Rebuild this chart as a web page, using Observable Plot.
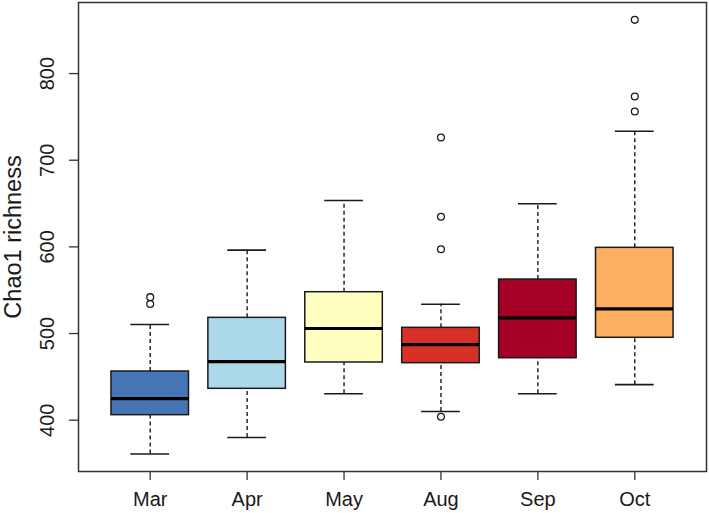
<!DOCTYPE html>
<html>
<head>
<meta charset="utf-8">
<script src="https://cdn.jsdelivr.net/npm/d3@7"></script>
<script src="https://cdn.jsdelivr.net/npm/@observablehq/plot@0.6"></script>
<style>
  html, body { margin: 0; padding: 0; background: #fff; }
  #chart svg { display: block; }
</style>
</head>
<body>
<div id="chart"></div>
<script>
const months = ["Mar", "Apr", "May", "Aug", "Sep", "Oct"];
const colors = ["#4575B4", "#ABD9E9", "#FFFFBF", "#D73027", "#A50026", "#FDAE61"];
const lowerWhisker = [361, 380, 430.5, 410, 430.5, 441];
const q1 = [405.8, 436.2, 466.6, 465.8, 471.5, 495.1];
const median = [425, 467.7, 505.8, 487.3, 518.1, 528.5];
const q3 = [456.2, 518.1, 547.7, 506.6, 562.3, 598.9];
const upperWhisker = [510.4, 596.2, 653.5, 533.8, 649.7, 733.4];
const outlierMonth = ["Mar", "Mar", "Aug", "Aug", "Aug", "Aug", "Oct", "Oct", "Oct"];
const outlierValue = [542, 534, 726.2, 634.7, 597.3, 403.9, 862, 773.5, 756.2];
const yTicks = [400, 500, 600, 700, 800];

const boxes = months.map((m, i) => ({
  m, pos: i + 1, color: colors[i],
  lo: lowerWhisker[i], q1: q1[i], med: median[i], q3: q3[i], hi: upperWhisker[i]
}));
const outliers = outlierMonth.map((m, i) => ({ pos: months.indexOf(m) + 1, v: outlierValue[i] }));

const font = "Liberation Sans, Arial, Helvetica, sans-serif";
const ink = "#1a1a1a";

const chart = Plot.plot({
  width: 709,
  height: 513,
  marginLeft: 78,
  marginRight: 3,
  marginTop: 2,
  marginBottom: 42,
  style: { fontFamily: font, background: "#fff", color: ink },
  x: { type: "linear", domain: [0.26, 6.74], axis: null },
  y: { domain: [340.8, 882], axis: null },
  marks: [
    Plot.frame({ stroke: "#333", strokeWidth: 1.5 }),
    Plot.axisY({
      ticks: yTicks, tickSize: 9, tickPadding: 16, tickRotate: -90,
      fontSize: 20, stroke: "#333", strokeWidth: 1.3, fill: ink, label: null
    }),
    Plot.axisX({
      ticks: [1, 2, 3, 4, 5, 6], tickFormat: (d) => months[d - 1],
      tickSize: 9, tickPadding: 11.5, fontSize: 20, stroke: "#333", strokeWidth: 1.3, fill: ink, label: null
    }),
    Plot.text(["Chao1 richness"], {
      frameAnchor: "left", dx: -58, rotate: -90, lineAnchor: "bottom",
      textAnchor: "middle", fontSize: 23.5, fill: ink
    }),
    // whiskers (dashed)
    Plot.ruleX(boxes, { x: "pos", y1: "lo", y2: "q1", stroke: ink, strokeWidth: 1.4, strokeDasharray: "4,3" }),
    Plot.ruleX(boxes, { x: "pos", y1: "q3", y2: "hi", stroke: ink, strokeWidth: 1.4, strokeDasharray: "4,3" }),
    // caps
    Plot.ruleY(boxes, { y: "lo", x1: (d) => d.pos - 0.2, x2: (d) => d.pos + 0.2, stroke: ink, strokeWidth: 1.6 }),
    Plot.ruleY(boxes, { y: "hi", x1: (d) => d.pos - 0.2, x2: (d) => d.pos + 0.2, stroke: ink, strokeWidth: 1.6 }),
    // boxes
    Plot.rect(boxes, {
      x1: (d) => d.pos - 0.4, x2: (d) => d.pos + 0.4, y1: "q1", y2: "q3",
      fill: "color", stroke: ink, strokeWidth: 1.5
    }),
    // medians
    Plot.ruleY(boxes, { y: "med", x1: (d) => d.pos - 0.4, x2: (d) => d.pos + 0.4, stroke: "#000", strokeWidth: 3.2 }),
    // outliers
    Plot.dot(outliers, { x: "pos", y: "v", r: 3.4, stroke: ink, strokeWidth: 1.3, fill: "none" })
  ]
});
document.getElementById("chart").append(chart);
</script>
</body>
</html>
